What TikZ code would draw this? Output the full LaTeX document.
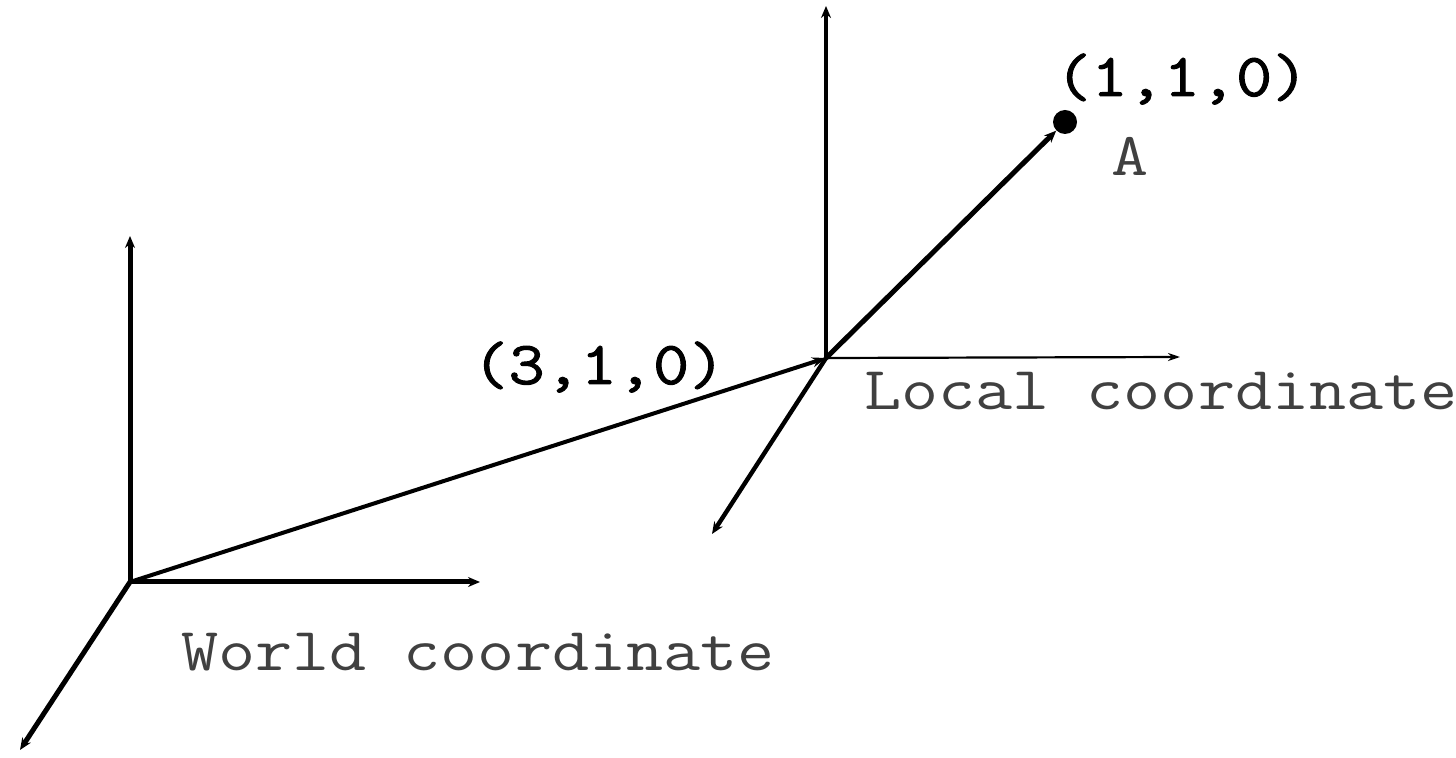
\documentclass[tikz,border=0pt]{standalone}
\usepackage{fontspec}
\newfontfamily\lblfont[FakeStretch=1.18]{Latin Modern Mono}
\newfontfamily\tupfont[FakeStretch=1.15,FakeBold=1.6]{Latin Modern Mono}
\usetikzlibrary{arrows.meta}
\begin{document}
\begin{tikzpicture}[x=0.5pt,y=-0.5pt,
  axis/.style={line width=2.5pt,-{Stealth[length=6pt,width=5pt]}},
  thinaxis/.style={line width=1.1pt,-{Stealth[length=6pt,width=4pt]}},
  lbl/.style={anchor=base west,inner sep=0pt,text=black!75,font=\lblfont\fontsize{30.5}{34}\selectfont},
  tup/.style={anchor=base west,inner sep=0pt,text=black,font=\tupfont\fontsize{30.5}{34}\selectfont},
  dotA/.style={circle,fill=black,inner sep=0pt,minimum size=12pt}]
\useasboundingbox (0,0) rectangle (1456,758);
% world frame
\coordinate (W) at (130,582);
\coordinate (Wy) at (130,236);
\coordinate (Wx) at (480,582);
\coordinate (Wz) at (20,750);
% local frame
\coordinate (L) at (826,358);
\coordinate (Ly) at (826,6);
\coordinate (Lx) at (1180,357);
\coordinate (Lz) at (712,534);
\node[dotA] (A) at (1065,122) {};
\draw[axis] (W) -- (Wy);
\draw[axis] (W) -- (Wx);
\draw[axis] (W) -- (Wz);
\draw[line width=2pt,-{Stealth[length=7pt,width=5pt]}] (W) -- (L);
\draw[line width=2pt,-{Stealth[length=6pt,width=5pt]}] (L) -- (Ly);
\draw[thinaxis] (L) -- (Lx);
\draw[line width=2.2pt,-{Stealth[length=6pt,width=5pt]}] (L) -- (Lz);
\draw[line width=2.5pt,-{Stealth[length=6pt,width=5pt]}] (L) -- (A);
% labels
\node[tup] (t310) at (472,384) {(3,1,0)};
\node[tup] (t110) at (1055,96) {(1,1,0)};
\node[lbl] (lA) at (1111,176) {A};
\node[lbl] (lloc) at (864,410) {Local coordinate};
\node[lbl] (lwor) at (181,670) {World coordinate};
\end{tikzpicture}
\end{document}
